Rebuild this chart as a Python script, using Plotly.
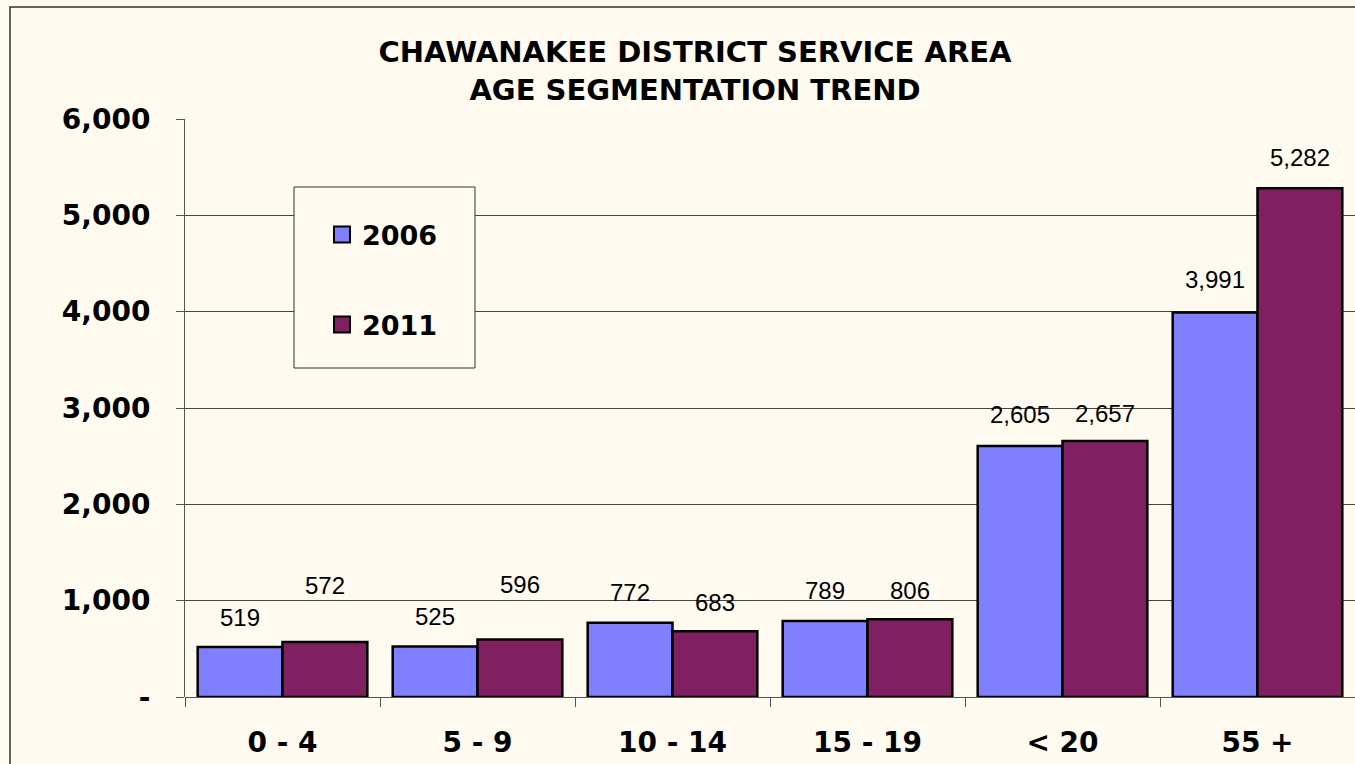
import plotly.graph_objects as go

# Age segments and population counts
age_groups = ["0 - 4", "5 - 9", "10 - 14", "15 - 19", "< 20", "55 +"]
pop_2006 = [519, 525, 772, 789, 2605, 3991]
pop_2011 = [572, 596, 683, 806, 2657, 5282]

y_ticks = [0, 1000, 2000, 3000, 4000, 5000, 6000]
y_tick_text = ["-", "1,000", "2,000", "3,000", "4,000", "5,000", "6,000"]

# how far (px) each value label sits above its bar
lift_2006 = [30, 30, 30, 30, 32, 33]
lift_2011 = [56, 55, 29, 29, 28, 31]

BG = "#FFFAF0"
BLUE = "#8080FF"
PLUM = "#802060"
BAR_GAP = 0.13

W, H = 1355, 764
L, R, T, B = 185, 0, 119, 67
PW, PH = W - L - R, H - T - B


def px_x(p):
    return (p - L) / PW


def px_y(p):
    return 1 - (p - T) / PH


fig = go.Figure()

fig.add_trace(go.Bar(x=age_groups, y=pop_2006, name="2006", marker=dict(color=BLUE, line=dict(color="black", width=2.5)), showlegend=False))
fig.add_trace(go.Bar(x=age_groups, y=pop_2011, name="2011", marker=dict(color=PLUM, line=dict(color="black", width=2.5)), showlegend=False))

# legend entries with bigger square swatches
for name, color in [("2006", BLUE), ("2011", PLUM)]:
    fig.add_trace(go.Scatter(
        x=[None], y=[None], mode="markers", name=name, legendgroup=name,
        marker=dict(symbol="square", size=16, color=color, line=dict(color="black", width=2)),
    ))

# value labels above the bars
half = (1 - BAR_GAP) / 4
for i, (a, b) in enumerate(zip(pop_2006, pop_2011)):
    for off, val, lift in [(-half, a, lift_2006[i]), (half, b, lift_2011[i])]:
        fig.add_annotation(
            x=i + off, y=val, text=f"{val:,}", showarrow=False, yshift=lift,
            font=dict(family="Liberation Sans, Arial", size=24, color="black"),
        )

# outer chart border (only top and left edges fall inside the window)
fig.add_shape(type="path", xref="paper", yref="paper",
              path=f"M {px_x(10)},{px_y(H + 20)} L {px_x(10)},{px_y(7)} L {px_x(W + 20)},{px_y(7)}",
              line=dict(color="#333333", width=1.5), layer="below")
# legend box
fig.add_shape(type="rect", xref="paper", yref="paper",
              x0=px_x(294), x1=px_x(475), y0=px_y(368), y1=px_y(187),
              line=dict(color="#333333", width=1), fillcolor=BG, layer="above")

fig.update_layout(
    width=W, height=H,
    paper_bgcolor=BG, plot_bgcolor=BG,
    margin=dict(l=L, r=R, t=T, b=B),
    barmode="group", bargap=BAR_GAP, bargroupgap=0,
    title=dict(
        text="CHAWANAKEE DISTRICT SERVICE AREA<br>AGE SEGMENTATION TREND",
        x=695 / W, xanchor="center", xref="container",
        y=1 - 62 / H, yanchor="top", yref="container",
        font=dict(family="DejaVu Sans", size=29, color="black", weight="bold"),
    ),
    font=dict(family="DejaVu Sans", color="black"),
    legend=dict(
        x=px_x(294), y=px_y(187), xanchor="left", yanchor="top",
        bgcolor="rgba(0,0,0,0)", borderwidth=0,
        font=dict(family="DejaVu Sans", size=27, color="black", weight="bold"),
        tracegroupgap=52, indentation=28, entrywidth=140,
        title=dict(text=" ", font=dict(size=18)),
    ),
    xaxis=dict(
        type="category", showgrid=False, showline=False,
        ticks="outside", tickson="boundaries", ticklen=9, tickcolor="#555555",
        tickfont=dict(family="DejaVu Sans", size=28, color="black", weight="bold"),
        ticklabelstandoff=26,
    ),
    yaxis=dict(
        range=[0, 6000], tickvals=y_ticks, ticktext=y_tick_text,
        showgrid=True, gridcolor="#444444", gridwidth=1,
        showline=True, linecolor="#555555", linewidth=1,
        ticks="outside", ticklen=8, tickcolor="#555555",
        zeroline=True, zerolinecolor="#555555", zerolinewidth=1,
        tickfont=dict(family="DejaVu Sans", size=28, color="black", weight="bold"),
        ticklabelstandoff=20,
    ),
)

# drop the default page margin and scrollbars so the chart fills the window
fig.write_html(
    "out.html", config={"displayModeBar": False},
    post_script="document.body.style.margin='0';document.body.style.overflow='hidden';"
                "document.documentElement.style.overflow='hidden';",
)
